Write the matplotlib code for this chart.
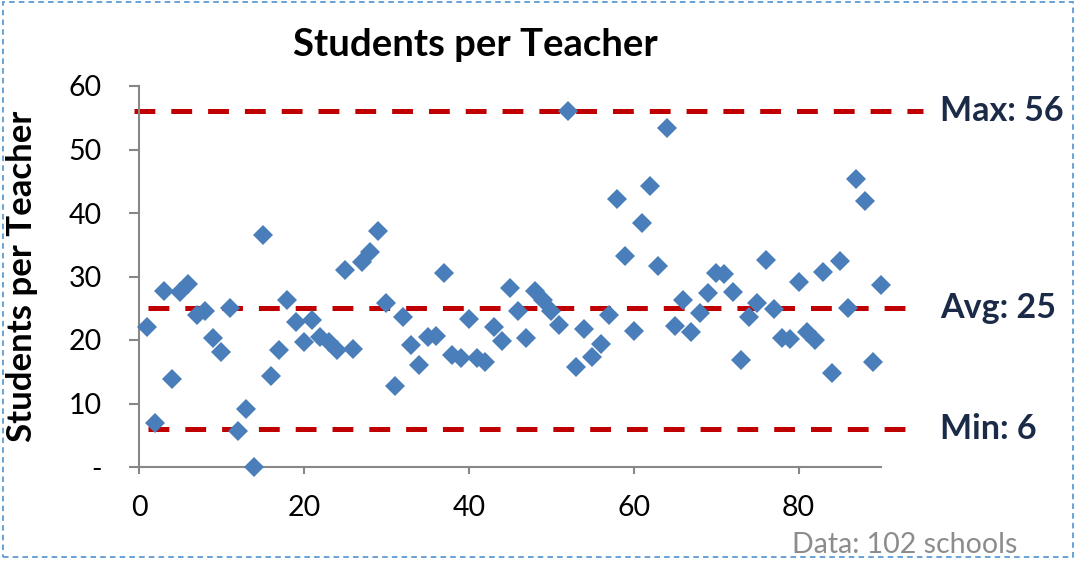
import matplotlib
matplotlib.use("Agg")
import matplotlib.pyplot as plt
from matplotlib.patches import Rectangle

# School index and students-per-teacher ratio
school_idx = list(range(1, 91))
ratio = [
    22.0, 7.0, 27.7, 13.8, 27.5, 28.8, 24.0, 24.6, 20.3, 18.1,
    25.0, 5.7, 9.1, 0.0, 36.5, 14.3, 18.5, 26.3, 22.8, 19.7,
    23.1, 20.4, 19.7, 18.5, 31.0, 18.6, 32.3, 33.9, 37.2, 25.8,
    12.7, 23.7, 19.2, 16.1, 20.4, 20.7, 30.5, 17.6, 17.1, 23.3,
    17.1, 16.5, 22.0, 19.8, 28.2, 24.5, 20.3, 27.7, 26.3, 24.6,
    22.4, 56.0, 15.7, 21.7, 17.3, 19.4, 24.0, 42.2, 33.3, 21.4,
    38.4, 44.2, 31.6, 53.4, 22.2, 26.3, 21.3, 24.3, 27.4, 30.6,
    30.4, 27.6, 16.8, 23.6, 25.8, 32.6, 24.9, 20.3, 20.2, 29.1,
    21.3, 20.0, 30.7, 14.8, 32.4, 25.0, 45.4, 41.9, 16.5, 28.7,
]

# Reference levels
ref_names = ["Max", "Avg", "Min"]
ref_values = [56, 25, 6]

x_ticks = [0, 20, 40, 60, 80]
y_ticks = [0, 10, 20, 30, 40, 50, 60]
y_tick_labels = ["-", "10", "20", "30", "40", "50", "60"]

FONT = "Lato"
plt.rcParams["font.family"] = [FONT, "DejaVu Sans"]
plt.rcParams["lines.scale_dashes"] = False

fig = plt.figure(figsize=(10.77, 5.61), dpi=100)
ax = fig.add_axes([139 / 1077, 1 - 467 / 561, 742 / 1077, 381 / 561])

ax.plot(school_idx, ratio, linestyle="none", marker="D", markersize=10,
        color="#4A7EBB", markeredgewidth=0, zorder=3, clip_on=False)

# dashed reference lines running a little past the plot area
spans = {"Max": (-0.6, 95.1), "Avg": (1.1, 94.3), "Min": (1.1, 94.3)}
for name, val in zip(ref_names, ref_values):
    x0, x1 = spans[name]
    ax.plot([x0, x1], [val, val], color="#C00000", linewidth=3.6,
            dashes=(15, 11.5), clip_on=False, zorder=2,
            dash_capstyle="butt")
    ax.text(97.2, val, f"{name}: {val}", fontsize=24.5, fontweight="bold",
            color="#1B2B47", va="center", ha="left", clip_on=False)

ax.set_xlim(0, 90)
ax.set_ylim(0, 60)
ax.set_xticks(x_ticks)
ax.set_yticks(y_ticks)
ax.set_yticklabels(y_tick_labels)

for side in ("top", "right"):
    ax.spines[side].set_visible(False)
for side in ("left", "bottom"):
    ax.spines[side].set_color("#878787")
    ax.spines[side].set_linewidth(1.5)

ax.tick_params(axis="y", direction="out", length=7, width=1.5, color="#878787",
               pad=20, labelsize=20.5, labelcolor="black")
ax.tick_params(axis="x", direction="out", length=5, width=1.5, color="#878787",
               pad=15, labelsize=20.5, labelcolor="black")

ax.set_ylabel("Students per Teacher", fontsize=25, fontweight="bold")
ax.yaxis.set_label_coords((38 - 139) / 742, 0.5)

fig.text(475 / 1077, 1 - 45 / 561, "Students per Teacher", fontsize=27.5,
         fontweight="bold", ha="center", va="center")
fig.text(792 / 1077, 1 - 545 / 561, "Data: 102 schools", fontsize=20.5,
         color="#8C8C8C", ha="left", va="center")

# dashed frame around the chart
frame = Rectangle((3 / 1077, 4 / 561), 1070 / 1077, 555 / 561,
                  transform=fig.transFigure, fill=False, edgecolor="#5B9BD5",
                  linewidth=1.3, linestyle=(0, (4, 3)))
fig.patches.append(frame)

fig.savefig("out.png", dpi=100)
